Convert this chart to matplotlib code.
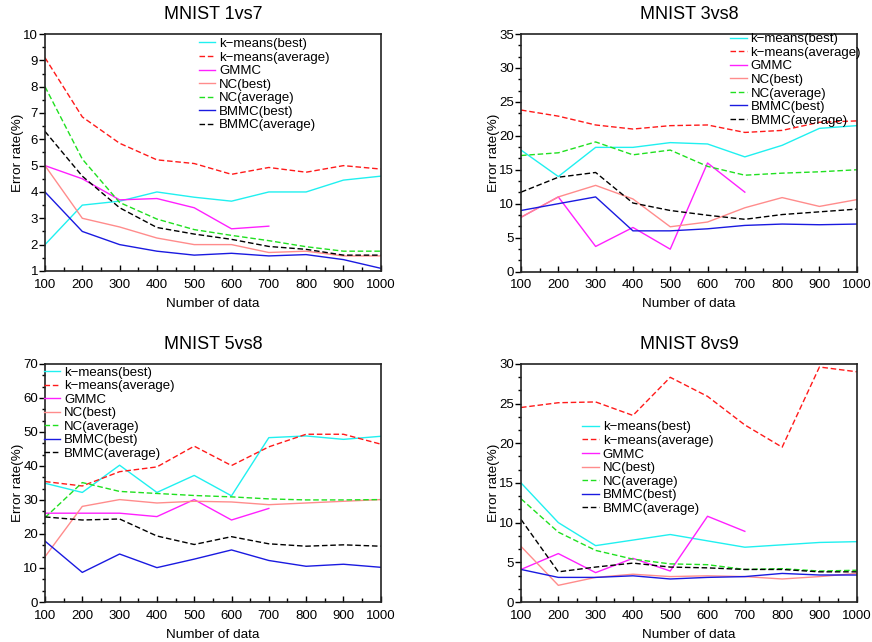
import matplotlib
matplotlib.use("Agg")
import matplotlib.pyplot as plt
from matplotlib.ticker import MultipleLocator, AutoMinorLocator

plt.rcParams['font.family'] = ['Liberation Sans', 'DejaVu Sans']

n_data = [100, 200, 300, 400, 500, 600, 700, 800, 900, 1000]

labels = ["k\u2212means(best)", "k\u2212means(average)", "GMMC", "NC(best)",
          "NC(average)", "BMMC(best)", "BMMC(average)"]
colors = ["#20f0f0", "#ff1a1a", "#ff20ff", "#ff8c8c", "#20e020", "#1a1ae0", "#000000"]
styles = ["-", "--", "-", "-", "--", "-", "--"]

# MNIST 1vs7
km_best_17 = [2.0, 3.5, 3.65, 4.0, 3.8, 3.65, 4.0, 4.0, 4.45, 4.6]
km_avg_17 = [9.1, 6.85, 5.85, 5.22, 5.08, 4.67, 4.93, 4.75, 5.0, 4.87]
gmmc_17 = [5.0, 4.5, 3.7, 3.75, 3.4, 2.6, 2.7]
nc_best_17 = [5.0, 3.0, 2.67, 2.25, 2.0, 2.0, 1.7, 1.75, 1.57, 1.57]
nc_avg_17 = [8.0, 5.25, 3.6, 2.97, 2.57, 2.35, 2.15, 1.92, 1.75, 1.75]
bmmc_best_17 = [4.0, 2.5, 2.0, 1.75, 1.6, 1.67, 1.57, 1.62, 1.43, 1.1]
bmmc_avg_17 = [6.3, 4.6, 3.4, 2.65, 2.4, 2.2, 1.93, 1.82, 1.6, 1.6]

# MNIST 3vs8
km_best_38 = [17.9, 14.0, 18.3, 18.3, 19.0, 18.8, 16.9, 18.6, 21.1, 21.5]
km_avg_38 = [23.8, 22.9, 21.6, 21.0, 21.5, 21.6, 20.5, 20.8, 22.0, 22.2]
gmmc_38 = [8.0, 11.0, 3.7, 6.5, 3.3, 16.0, 11.7]
nc_best_38 = [8.0, 11.0, 12.7, 10.7, 6.6, 7.3, 9.4, 10.9, 9.6, 10.6]
nc_avg_38 = [17.1, 17.5, 19.1, 17.2, 17.9, 15.5, 14.2, 14.5, 14.7, 15.0]
bmmc_best_38 = [9.0, 10.0, 11.0, 6.0, 6.0, 6.3, 6.8, 7.0, 6.9, 7.0]
bmmc_avg_38 = [11.7, 13.9, 14.6, 10.1, 9.0, 8.3, 7.7, 8.4, 8.8, 9.2]

# MNIST 5vs8
km_best_58 = [34.9, 32.2, 40.2, 32.2, 37.2, 31.2, 48.3, 48.8, 47.8, 48.7]
km_avg_58 = [35.4, 34.1, 38.3, 39.7, 45.8, 40.1, 45.6, 49.3, 49.3, 46.4]
gmmc_58 = [26.1, 26.1, 26.1, 25.1, 30.1, 24.1, 27.5]
nc_best_58 = [13.3, 28.1, 30.1, 29.1, 29.6, 29.4, 28.6, 29.1, 29.6, 30.1]
nc_avg_58 = [24.8, 35.1, 32.5, 31.9, 31.3, 30.9, 30.3, 30.0, 30.0, 30.1]
bmmc_best_58 = [17.9, 8.7, 14.1, 10.1, 12.6, 15.3, 12.2, 10.5, 11.1, 10.2]
bmmc_avg_58 = [25.0, 24.1, 24.4, 19.4, 16.9, 19.2, 17.1, 16.4, 16.8, 16.4]

# MNIST 8vs9
km_best_89 = [15.0, 10.0, 7.1, 7.8, 8.5, 7.7, 6.9, 7.2, 7.5, 7.6]
km_avg_89 = [24.5, 25.1, 25.2, 23.5, 28.3, 25.9, 22.3, 19.5, 29.6, 29.0]
gmmc_89 = [4.1, 6.1, 3.7, 5.5, 3.9, 10.8, 8.9]
nc_best_89 = [7.0, 2.1, 3.1, 3.5, 3.2, 3.3, 3.2, 2.9, 3.2, 3.6]
nc_avg_89 = [13.0, 8.8, 6.5, 5.4, 4.8, 4.7, 4.1, 4.2, 3.9, 4.0]
bmmc_best_89 = [4.1, 3.1, 3.1, 3.3, 2.9, 3.1, 3.2, 3.6, 3.4, 3.4]
bmmc_avg_89 = [10.4, 3.8, 4.4, 4.9, 4.4, 4.3, 4.1, 4.1, 3.8, 3.8]

panels = [
    ("MNIST 1vs7", [km_best_17, km_avg_17, gmmc_17, nc_best_17, nc_avg_17, bmmc_best_17, bmmc_avg_17],
     (1, 10), 1, 2),
    ("MNIST 3vs8", [km_best_38, km_avg_38, gmmc_38, nc_best_38, nc_avg_38, bmmc_best_38, bmmc_avg_38],
     (0, 35), 5, 3),
    ("MNIST 5vs8", [km_best_58, km_avg_58, gmmc_58, nc_best_58, nc_avg_58, bmmc_best_58, bmmc_avg_58],
     (0, 70), 10, 3),
    ("MNIST 8vs9", [km_best_89, km_avg_89, gmmc_89, nc_best_89, nc_avg_89, bmmc_best_89, bmmc_avg_89],
     (0, 30), 5, 3),
]

# axes boxes in figure fractions (left, bottom, width, height)
boxes = [
    (0.0516, 0.578, 0.385, 0.369),
    (0.5975, 0.577, 0.385, 0.370),
    (0.0516, 0.0623, 0.385, 0.371),
    (0.5975, 0.0623, 0.385, 0.371),
]
# legend anchor (upper left corner, in axes fractions)
legend_pos = [(0.45, 0.995), (0.615, 1.015), (-0.012, 1.0), (0.175, 0.77)]

fig = plt.figure(figsize=(8.72, 6.42), dpi=100)

for (title, series, ylim, major, nminor), box, lpos in zip(panels, boxes, legend_pos):
    ax = fig.add_axes(box)
    for vals, lab, col, ls in zip(series, labels, colors, styles):
        x = n_data[:len(vals)]
        ax.plot(x, vals, ls, color=col, lw=1.0, label=lab, dashes=(4, 2) if ls == "--" else ())
    ax.set_xlim(100, 1000)
    ax.set_ylim(*ylim)
    ax.set_xticks(n_data)
    ax.xaxis.set_minor_locator(MultipleLocator(50))
    ax.yaxis.set_major_locator(MultipleLocator(major))
    ax.yaxis.set_minor_locator(AutoMinorLocator(nminor))
    ax.tick_params(axis="x", which="both", direction="in", labelsize=9.5, pad=5.5)
    ax.tick_params(axis="x", which="major", length=4, width=1)
    ax.tick_params(axis="x", which="minor", length=3, width=1)
    ax.tick_params(axis="y", which="both", direction="out", labelsize=9.5, pad=1)
    ax.tick_params(axis="y", which="major", length=4, width=1)
    ax.tick_params(axis="y", which="minor", length=2, width=1)
    for sp in ax.spines.values():
        sp.set_linewidth(1.2)
        sp.set_color("#222222")
    ax.set_title(title, fontsize=13, pad=11)
    ax.set_xlabel("Number of data", fontsize=9.7, labelpad=5)
    ax.set_ylabel("Error rate(%)", fontsize=9.7, labelpad=-0.5)
    ax.legend(loc="upper left", bbox_to_anchor=lpos, frameon=False, fontsize=9.5,
              handlelength=1.25, handletextpad=0.3, labelspacing=0.1, borderpad=0.2,
              borderaxespad=0.0)

fig.savefig("out.png", dpi=100)
